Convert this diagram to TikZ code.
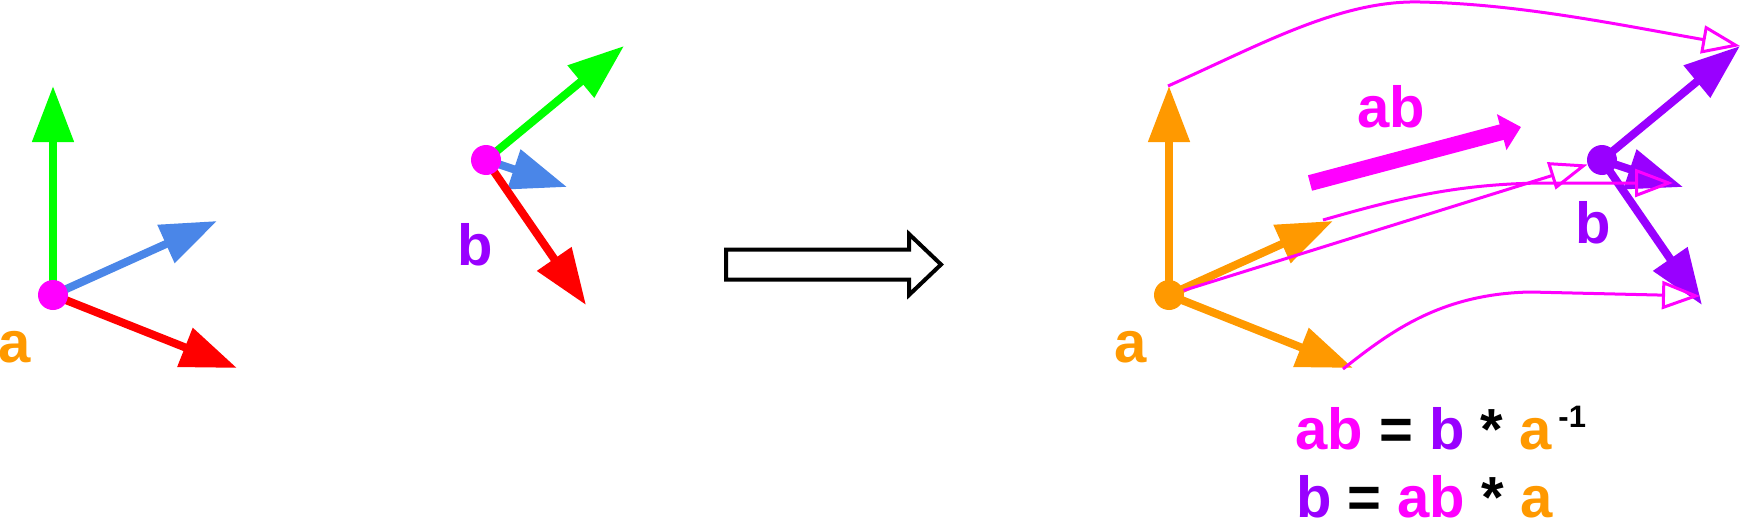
\documentclass[tikz,border=0pt]{standalone}
\usepackage{fontspec}
\setmainfont{Liberation Sans}
\usetikzlibrary{arrows.meta}
\definecolor{mag}{HTML}{FF00FF}
\definecolor{org}{HTML}{FF9900}
\definecolor{grn}{HTML}{00FF00}
\definecolor{blu}{HTML}{4A86E8}
\definecolor{rd}{HTML}{FF0000}
\definecolor{pur}{HTML}{9900FF}
\tikzset{
  vec/.style={line width=8pt, -{Triangle[length=56pt,width=40pt]}},
  dot/.style={circle, inner sep=0pt, minimum size=30pt},
  lbl/.style={anchor=base, inner sep=0pt, font=\fontsize{58}{70}\selectfont\bfseries},
  eq/.style={anchor=base west, inner sep=0pt, font=\fontsize{58}{70}\selectfont\bfseries},
  thinarr/.style={mag, line width=3pt, -{Triangle[open, length=38pt, width=28pt]}},
  bigarrow/.style={draw=black, line width=4pt, line join=miter, fill=white},
}
\begin{document}
\begin{tikzpicture}[x=1pt,y=-1pt]
\useasboundingbox (0,0) rectangle (1742,519);
% ---------- frame a (left)
\coordinate (oA) at (53,295);
\coordinate (aG) at (53,86);
\coordinate (aB) at (217,221);
\coordinate (aR) at (237,368);
\draw[vec, grn] (oA) -- (aG);
\draw[vec, blu] (oA) -- (aB);
\draw[vec, rd] (oA) -- (aR);
\node[dot, fill=mag] (dotA) at (oA) {};
\node[lbl, text=org] (labA) at (15,362) {a};
% ---------- frame b (left)
\coordinate (oB) at (486,160);
\coordinate (bG) at (624,46);
\coordinate (bB) at (567,187);
\coordinate (bR) at (586,305);
\draw[vec, grn] (oB) -- (bG);
\draw[vec, blu] (oB) -- (bB);
\draw[vec, rd] (oB) -- (bR);
\node[dot, fill=mag] (dotB) at (oB) {};
\node[lbl, text=pur] (labB) at (475,265) {b};
% ---------- big hollow arrow
\draw[bigarrow] (726,249.5) -- (909,249.5) -- (909,234) -- (941,264.5) -- (909,295) -- (909,279.5) -- (726,279.5) -- cycle;
% ---------- frame a (right)
\coordinate (oA2) at (1169,295);
\coordinate (a2U) at (1169,86);
\coordinate (a2M) at (1333,221);
\coordinate (a2L) at (1353,368);
\draw[vec, org] (oA2) -- (a2U);
\draw[vec, org] (oA2) -- (a2M);
\draw[vec, org] (oA2) -- (a2L);
\node[dot, fill=org] (dotA2) at (oA2) {};
\node[lbl, text=org] (labA2) at (1131,362) {a};
% ---------- frame b (right)
\coordinate (oB2) at (1602,160);
\coordinate (b2U) at (1740,46);
\coordinate (b2M) at (1683,187);
\coordinate (b2L) at (1702,305);
\draw[vec, pur] (oB2) -- (b2U);
\draw[vec, pur] (oB2) -- (b2M);
\draw[vec, pur] (oB2) -- (b2L);
\node[dot, fill=pur] (dotB2) at (oB2) {};
\node[lbl, text=pur] (labB2) at (1593,243) {b};
% ---------- ab arrow and label
\coordinate (abS) at (1310,183);
\coordinate (abT) at (1521,127);
\draw[mag, line width=16pt, -{Triangle[length=20pt,width=36pt]}] (abS) -- (abT);
\node[lbl, text=mag] (labAB) at (1391,127) {ab};
% ---------- magenta mapping curves
\coordinate (c1S) at (1168,86);
\coordinate (c2S) at (1323,220);
\coordinate (c2E) at (1673,183);
\coordinate (c4S) at (1343,369);
\coordinate (c4E) at (1700,296);
\draw[thinarr] (c1S) .. controls (1260,45) and (1340,0) .. (1420,2) .. controls (1520,4) and (1620,25) .. (b2U);
\draw[thinarr] (c2S) .. controls (1400,198) and (1460,183) .. (1550,183) -- (c2E);
\draw[thinarr] (dotA2) -- (dotB2);
\draw[thinarr] (c4S) .. controls (1390,332) and (1440,294) .. (1530,292) -- (c4E);
% ---------- equations
\node[eq] (eq1) at (1295,449) {\textcolor{mag}{ab} = \textcolor{pur}{b} * \textcolor{org}{a}\hspace{7pt}\raisebox{22pt}{\fontsize{31}{31}\selectfont -1}};
\node[eq] (eq2) at (1296,517) {\textcolor{pur}{b} = \textcolor{mag}{ab} * \textcolor{org}{a}};
\end{tikzpicture}
\end{document}
